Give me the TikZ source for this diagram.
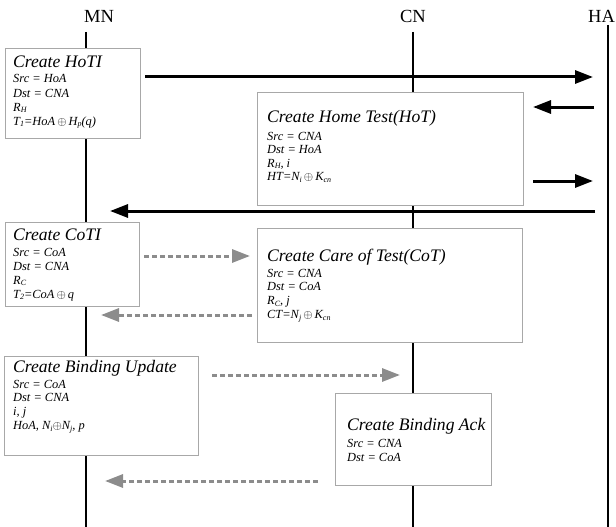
\documentclass[tikz,border=0pt]{standalone}
\usepackage{fontspec}
\setmainfont{Liberation Serif}
\usetikzlibrary{arrows.meta}
\newcommand\sbs[1]{\raisebox{-0.35ex}{\fontsize{8}{8}\selectfont #1}}
\newcommand\xor{\,$\oplus$\,}
\definecolor{boxgray}{HTML}{A8A8A8}
\definecolor{dashgray}{HTML}{8C8C8C}
\tikzset{
  box/.style={draw=boxgray, line width=0.9pt, fill=white, inner sep=0pt},
  ttl/.style={inner sep=0pt, anchor=base west, font=\fontsize{17.6}{20}\selectfont\itshape},
  itm/.style={inner sep=0pt, anchor=base west, font=\fontsize{12.4}{14}\selectfont\itshape},
  lbl/.style={inner sep=0pt, anchor=base, font=\fontsize{18.5}{22}\selectfont},
  life/.style={line width=1.9pt, black},
  msg/.style={line width=3pt, black, -{Triangle[length=18pt,width=13pt]}},
  dmsg/.style={line width=3pt, dashgray, dash pattern=on 5pt off 3pt, -{Triangle[length=18pt,width=13pt]}}
}
\begin{document}
\begin{tikzpicture}[x=1pt,y=-1pt]
\useasboundingbox (0,0) rectangle (616,527);
% labels
\node[lbl, anchor=base west] (mn) at (84,23) {MN};
\node[lbl] (cn) at (413,23) {CN};
\node[lbl, anchor=base west] (ha) at (588,23) {HA};
% lifelines
\coordinate (mnt) at (86,32); \coordinate (mnb) at (86,527);
\coordinate (cnt) at (413,32); \coordinate (cnb) at (413,527);
\coordinate (hat) at (608,25); \coordinate (hab) at (608,527);
\draw[life] (mnt) -- (mnb);
\draw[life] (cnt) -- (cnb);
\draw[life] (hat) -- (hab);
% boxes
\node[box, anchor=north west, minimum width=135pt, minimum height=90pt] (hoti) at (5,48) {};
\node[box, anchor=north west, minimum width=266pt, minimum height=113pt] (hot) at (257,92) {};
\node[box, anchor=north west, minimum width=134pt, minimum height=84pt] (coti) at (5,222) {};
\node[box, anchor=north west, minimum width=265pt, minimum height=114pt] (cot) at (257,228) {};
\node[box, anchor=north west, minimum width=194pt, minimum height=99pt] (bu) at (4,356) {};
\node[box, anchor=north west, minimum width=156pt, minimum height=92pt] (ba) at (335,393) {};
% texts
\node[ttl] (hoti-t) at (13,67) {Create HoTI};
\foreach \t [count=\i] in {{Src = HoA},{Dst = CNA},{R\sbs{H}},{T\sbs{1}=HoA\xor H\sbs{p}(q)}}
  \node[itm] (hoti-\i) at (13,{83+14*(\i-1)}) {\t};
\node[ttl] (hot-t) at (267,122) {Create Home Test(HoT)};
\foreach \t [count=\i] in {{Src = CNA},{Dst = HoA},{R\sbs{H}, i},{HT=N\sbs{i}\xor K\sbs{cn}}}
  \node[itm] (hot-\i) at (267,{140+13.5*(\i-1)}) {\t};
\node[ttl] (coti-t) at (13,240) {Create CoTI};
\foreach \t [count=\i] in {{Src = CoA},{Dst = CNA},{R\sbs{C}},{T\sbs{2}=CoA\xor q}}
  \node[itm] (coti-\i) at (13,{256+14*(\i-1)}) {\t};
\node[ttl] (cot-t) at (267,261) {Create Care of Test(CoT)};
\foreach \t [count=\i] in {{Src = CNA},{Dst = CoA},{R\sbs{C}, j},{CT=N\sbs{j}\xor K\sbs{cn}}}
  \node[itm] (cot-\i) at (267,{277+13.7*(\i-1)}) {\t};
\node[ttl] (bu-t) at (13,372) {Create Binding Update};
\foreach \t [count=\i] in {{Src = CoA},{Dst = CNA},{i, j},{HoA, N\sbs{i}$\oplus$N\sbs{j}, p}}
  \node[itm] (bu-\i) at (13,{388+13.7*(\i-1)}) {\t};
\node[ttl] (ba-t) at (347,430) {Create Binding Ack};
\foreach \t [count=\i] in {{Src = CNA},{Dst = CoA}}
  \node[itm] (ba-\i) at (347,{447+14*(\i-1)}) {\t};
% message ends
\coordinate (a1s) at (145,77); \coordinate (a1e) at (593,77);
\coordinate (a2s) at (594,107); \coordinate (a2e) at (533,107);
\coordinate (a3s) at (533,181); \coordinate (a3e) at (593,181);
\coordinate (a4s) at (595,211); \coordinate (a4e) at (110,211);
\coordinate (d1s) at (144,256); \coordinate (d1e) at (250,256);
\coordinate (d2s) at (252,315); \coordinate (d2e) at (101,315);
\coordinate (d3s) at (212,375); \coordinate (d3e) at (400,375);
\coordinate (d4s) at (318,481); \coordinate (d4e) at (105,481);
\draw[msg] (a1s) -- (a1e);
\draw[msg] (a2s) -- (a2e);
\draw[msg] (a3s) -- (a3e);
\draw[msg] (a4s) -- (a4e);
\draw[dmsg] (d1s) -- (d1e);
\draw[dmsg] (d2s) -- (d2e);
\draw[dmsg] (d3s) -- (d3e);
\draw[dmsg] (d4s) -- (d4e);
\end{tikzpicture}
\end{document}
